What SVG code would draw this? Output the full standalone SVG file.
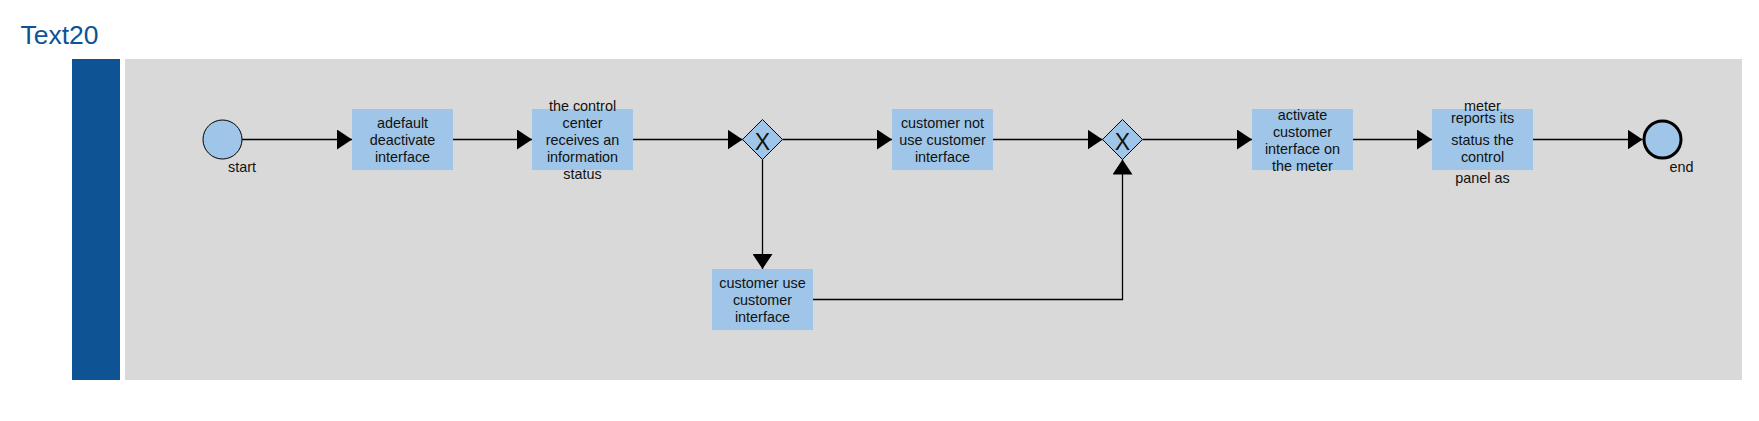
<svg xmlns="http://www.w3.org/2000/svg" width="1759" height="421" viewBox="0 0 1759 421">
<style>
.lbl{font-family:"Liberation Sans",Arial,sans-serif;font-size:14.4px;fill:#111;text-anchor:middle}
.task{fill:#9fc5e8;stroke:none}
.gw{fill:#9fc5e8;stroke:#000;stroke-width:1}
.x{font-family:"Liberation Sans",Arial,sans-serif;font-size:23px;fill:#111;text-anchor:middle}
.conn{fill:none;stroke:#000;stroke-width:1.3;marker-end:url(#arr)}
</style>
<defs>
<marker id="arr" markerUnits="userSpaceOnUse" markerWidth="15" markerHeight="20" refX="15" refY="10" orient="auto">
<path d="M0,0 L15,10 L0,20 Z" fill="#000"/>
</marker>
</defs>
<rect width="1759" height="421" fill="#fff"/>
<text x="20.5" y="44" style="font-family:'Liberation Sans',Arial,sans-serif;font-size:26.5px;fill:#0e5394">Text20</text>
<g id="pool">
<rect x="72" y="59" width="48" height="321" fill="#0e5394"/>
<rect x="125" y="59" width="1617" height="321" fill="#d9d9d9"/>
</g>
<g id="connectors">
<line class="conn" x1="242" y1="139.5" x2="352" y2="139.5"/>
<line class="conn" x1="453" y1="139.5" x2="532" y2="139.5"/>
<line class="conn" x1="633" y1="139.5" x2="742.5" y2="139.5"/>
<line class="conn" x1="782.5" y1="139.5" x2="892" y2="139.5"/>
<line class="conn" x1="762.5" y1="159.5" x2="762.5" y2="269"/>
<line class="conn" x1="993" y1="139.5" x2="1102.5" y2="139.5"/>
<polyline class="conn" points="813,299.5 1122.5,299.5 1122.5,159.5"/>
<line class="conn" x1="1142.5" y1="139.5" x2="1252" y2="139.5"/>
<line class="conn" x1="1353" y1="139.5" x2="1432" y2="139.5"/>
<line class="conn" x1="1533" y1="139.5" x2="1642.5" y2="139.5"/>
</g>
<g id="start">
<circle cx="222.5" cy="139.5" r="19.5" fill="#9fc5e8" stroke="#000" stroke-width="1"/>
<text class="lbl" x="242" y="172">start</text>
</g>
<g id="task1">
<rect class="task" x="352" y="109" width="101" height="61"/>
<text class="lbl" x="402.5" y="128.3">adefault</text>
<text class="lbl" x="402.5" y="145">deactivate</text>
<text class="lbl" x="402.5" y="161.7">interface</text>
</g>
<g id="task2">
<rect class="task" x="532" y="109" width="101" height="61"/>
<text class="lbl" x="582.5" y="111">the control</text>
<text class="lbl" x="582.5" y="128">center</text>
<text class="lbl" x="582.5" y="145">receives an</text>
<text class="lbl" x="582.5" y="162">information</text>
<text class="lbl" x="582.5" y="179">status</text>
</g>
<g id="gateway1">
<path class="gw" d="M762.5,119.5 L782.5,139.5 L762.5,159.5 L742.5,139.5 Z"/>
<text class="x" x="762.5" y="150">X</text>
</g>
<g id="task3">
<rect class="task" x="892" y="109" width="101" height="61"/>
<text class="lbl" x="942.5" y="128.3">customer not</text>
<text class="lbl" x="942.5" y="145">use customer</text>
<text class="lbl" x="942.5" y="161.7">interface</text>
</g>
<g id="task_use">
<rect class="task" x="712" y="269" width="101" height="61"/>
<text class="lbl" x="762.5" y="288">customer use</text>
<text class="lbl" x="762.5" y="305">customer</text>
<text class="lbl" x="762.5" y="322">interface</text>
</g>
<g id="gateway2">
<path class="gw" d="M1122.5,119.5 L1142.5,139.5 L1122.5,159.5 L1102.5,139.5 Z"/>
<text class="x" x="1122.5" y="150">X</text>
</g>
<g id="task4">
<rect class="task" x="1252" y="109" width="101" height="61"/>
<text class="lbl" x="1302.5" y="120">activate</text>
<text class="lbl" x="1302.5" y="137">customer</text>
<text class="lbl" x="1302.5" y="154">interface on</text>
<text class="lbl" x="1302.5" y="171">the meter</text>
</g>
<g id="task5">
<rect class="task" x="1432" y="109" width="101" height="61"/>
<text class="lbl" x="1482.5" y="110.7">meter</text>
<text class="lbl" x="1482.5" y="123.3">reports its</text>
<text class="lbl" x="1482.5" y="145">status the</text>
<text class="lbl" x="1482.5" y="161.7">control</text>
<text class="lbl" x="1482.5" y="183.3">panel as</text>
</g>
<g id="end">
<circle cx="1662.5" cy="139.5" r="18.5" fill="#9fc5e8" stroke="#000" stroke-width="3"/>
<text class="lbl" x="1681.5" y="172">end</text>
</g>
</svg>
